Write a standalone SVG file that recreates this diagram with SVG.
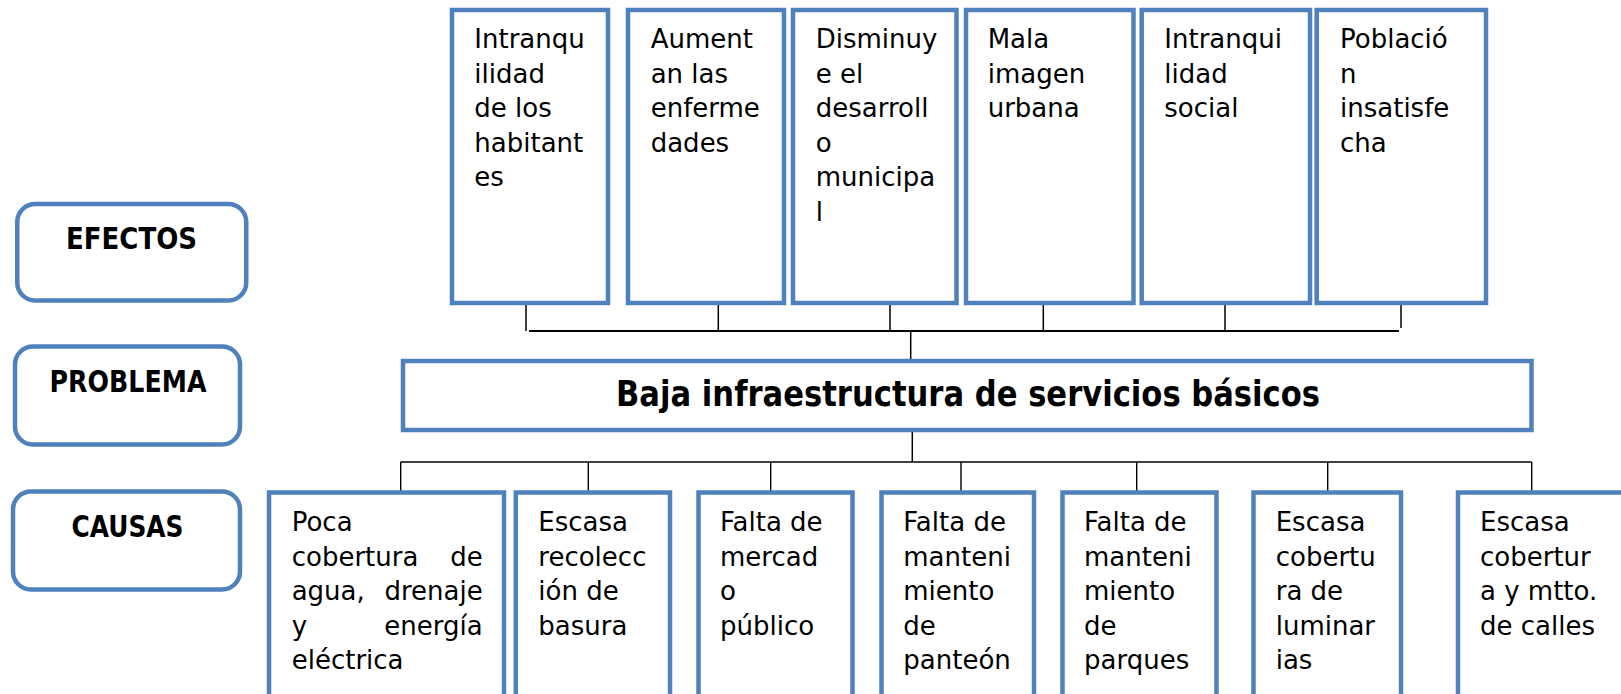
<svg xmlns="http://www.w3.org/2000/svg" width="1621" height="694" viewBox="0 0 1621 694">
<style>
  .box { fill: #ffffff; stroke: #4F81BD; stroke-width: 4.5; }
  .t { font-family: "DejaVu Sans", "Liberation Sans", sans-serif; font-size: 26px; fill: #000000; }
  .b { font-family: "DejaVu Sans", "Liberation Sans", sans-serif; font-weight: bold; fill: #000000; }
  .c { stroke: #000000; fill: none; }
</style>
<rect x="0" y="0" width="1621" height="694" fill="#ffffff"/>

<g id="label-efectos">
  <rect class="box" x="17.25" y="204" width="229" height="96.5" rx="18"/>
  <text class="b" x="131.5" y="249" font-size="29.5" text-anchor="middle" textLength="131" lengthAdjust="spacingAndGlyphs">EFECTOS</text>
</g>
<g id="label-problema">
  <rect class="box" x="15" y="346.5" width="225" height="98" rx="18"/>
  <text class="b" x="128" y="392" font-size="29.5" text-anchor="middle" textLength="157" lengthAdjust="spacingAndGlyphs">PROBLEMA</text>
</g>
<g id="label-causas">
  <rect class="box" x="13" y="491.5" width="227" height="98" rx="18"/>
  <text class="b" x="127.5" y="537" font-size="29.5" text-anchor="middle" textLength="112" lengthAdjust="spacingAndGlyphs">CAUSAS</text>
</g>

<g id="connectors">
  <line class="c" stroke-width="2" x1="529" y1="331" x2="1399" y2="331"/>
  <line class="c" stroke-width="1.5" x1="526" y1="305" x2="526" y2="331"/>
  <line class="c" stroke-width="1.5" x1="718.3" y1="305" x2="718.3" y2="331"/>
  <line class="c" stroke-width="1.5" x1="890" y1="305" x2="890" y2="331"/>
  <line class="c" stroke-width="1.5" x1="1043.3" y1="305" x2="1043.3" y2="331"/>
  <line class="c" stroke-width="1.5" x1="1225" y1="305" x2="1225" y2="331"/>
  <line class="c" stroke-width="1.5" x1="1401" y1="305" x2="1401" y2="328"/>
  <line class="c" stroke-width="1.5" x1="910.7" y1="331" x2="910.7" y2="359"/>
  <line class="c" stroke-width="1.5" x1="912.3" y1="432" x2="912.3" y2="462"/>
  <line class="c" stroke-width="1.4" x1="400.7" y1="462" x2="1531.7" y2="462"/>
  <line class="c" stroke-width="1.4" x1="400.7" y1="462" x2="400.7" y2="491"/>
  <line class="c" stroke-width="1.4" x1="588.3" y1="462" x2="588.3" y2="491"/>
  <line class="c" stroke-width="1.4" x1="770.7" y1="462" x2="770.7" y2="491"/>
  <line class="c" stroke-width="1.4" x1="961" y1="462" x2="961" y2="491"/>
  <line class="c" stroke-width="1.4" x1="1136.7" y1="462" x2="1136.7" y2="491"/>
  <line class="c" stroke-width="1.4" x1="1327.7" y1="462" x2="1327.7" y2="491"/>
  <line class="c" stroke-width="1.4" x1="1531.7" y1="462" x2="1531.7" y2="491"/>
</g>

<g id="efecto-1">
  <rect class="box" x="452" y="10" width="156" height="293"/>
  <text class="t" x="474.3"><tspan x="474.3" y="48.3">Intranqu</tspan><tspan x="474.3" y="82.7">ilidad</tspan><tspan x="474.3" y="117">de los</tspan><tspan x="474.3" y="151.5">habitant</tspan><tspan x="474.3" y="186.3">es</tspan></text>
</g>
<g id="efecto-2">
  <rect class="box" x="628" y="10" width="156" height="293"/>
  <text class="t" x="650.7"><tspan x="650.7" y="48.3">Aument</tspan><tspan x="650.7" y="82.7">an las</tspan><tspan x="650.7" y="117">enferme</tspan><tspan x="650.7" y="151.5">dades</tspan></text>
</g>
<g id="efecto-3">
  <rect class="box" x="793" y="10" width="163.5" height="293"/>
  <text class="t" x="815.7"><tspan x="815.7" y="48.3">Disminuy</tspan><tspan x="815.7" y="82.7">e el</tspan><tspan x="815.7" y="117">desarroll</tspan><tspan x="815.7" y="151.5">o</tspan><tspan x="815.7" y="186.3">municipa</tspan><tspan x="815.7" y="220.5">l</tspan></text>
</g>
<g id="efecto-4">
  <rect class="box" x="966" y="10" width="167.5" height="293"/>
  <text class="t" x="987.7"><tspan x="987.7" y="48.3">Mala</tspan><tspan x="987.7" y="82.7">imagen</tspan><tspan x="987.7" y="117">urbana</tspan></text>
</g>
<g id="efecto-5">
  <rect class="box" x="1141.7" y="10" width="168.3" height="293"/>
  <text class="t" x="1164.3"><tspan x="1164.3" y="48.3">Intranqui</tspan><tspan x="1164.3" y="82.7">lidad</tspan><tspan x="1164.3" y="117">social</tspan></text>
</g>
<g id="efecto-6">
  <rect class="box" x="1316.7" y="10" width="169.3" height="293"/>
  <text class="t" x="1340"><tspan x="1340" y="48.3">Poblaci&#243;</tspan><tspan x="1340" y="82.7">n</tspan><tspan x="1340" y="117">insatisfe</tspan><tspan x="1340" y="151.5">cha</tspan></text>
</g>

<g id="problema">
  <rect class="box" x="403" y="361" width="1128.5" height="69"/>
  <text class="b" x="968" y="406" font-size="35" text-anchor="middle" textLength="704" lengthAdjust="spacingAndGlyphs">Baja infraestructura de servicios b&#225;sicos</text>
</g>

<g id="causa-1">
  <rect class="box" x="269" y="492.5" width="235" height="220"/>
  <text class="t" x="291.7" y="531">Poca</text>
  <text class="t" x="291.7" y="565.5">cobertura</text>
  <text class="t" x="482.7" y="565.5" text-anchor="end">de</text>
  <text class="t" x="291.7" y="600">agua,</text>
  <text class="t" x="482.7" y="600" text-anchor="end">drenaje</text>
  <text class="t" x="291.7" y="634.5">y</text>
  <text class="t" x="482.7" y="634.5" text-anchor="end">energ&#237;a</text>
  <text class="t" x="291.7" y="669">el&#233;ctrica</text>
</g>
<g id="causa-2">
  <rect class="box" x="515.8" y="492.5" width="154.2" height="220"/>
  <text class="t"><tspan x="538.3" y="531">Escasa</tspan><tspan x="538.3" y="565.5">recolecc</tspan><tspan x="538.3" y="600">i&#243;n de</tspan><tspan x="538.3" y="634.5">basura</tspan></text>
</g>
<g id="causa-3">
  <rect class="box" x="698.5" y="492.5" width="154" height="220"/>
  <text class="t"><tspan x="720" y="531">Falta de</tspan><tspan x="720" y="565.5">mercad</tspan><tspan x="720" y="600">o</tspan><tspan x="720" y="634.5">p&#250;blico</tspan></text>
</g>
<g id="causa-4">
  <rect class="box" x="881.5" y="492.5" width="152.5" height="220"/>
  <text class="t"><tspan x="903.3" y="531">Falta de</tspan><tspan x="903.3" y="565.5">manteni</tspan><tspan x="903.3" y="600">miento</tspan><tspan x="903.3" y="634.5">de</tspan><tspan x="903.3" y="669">pante&#243;n</tspan></text>
</g>
<g id="causa-5">
  <rect class="box" x="1062.5" y="492.5" width="154" height="220"/>
  <text class="t"><tspan x="1084" y="531">Falta de</tspan><tspan x="1084" y="565.5">manteni</tspan><tspan x="1084" y="600">miento</tspan><tspan x="1084" y="634.5">de</tspan><tspan x="1084" y="669">parques</tspan></text>
</g>
<g id="causa-6">
  <rect class="box" x="1253.5" y="492.5" width="147.5" height="220"/>
  <text class="t"><tspan x="1275.7" y="531">Escasa</tspan><tspan x="1275.7" y="565.5">cobertu</tspan><tspan x="1275.7" y="600">ra de</tspan><tspan x="1275.7" y="634.5">luminar</tspan><tspan x="1275.7" y="669">ias</tspan></text>
</g>
<g id="causa-7">
  <rect class="box" x="1458" y="492.5" width="200" height="220"/>
  <text class="t"><tspan x="1480" y="531">Escasa</tspan><tspan x="1480" y="565.5">cobertur</tspan><tspan x="1480" y="600">a y mtto.</tspan><tspan x="1480" y="634.5">de calles</tspan></text>
</g>
</svg>
